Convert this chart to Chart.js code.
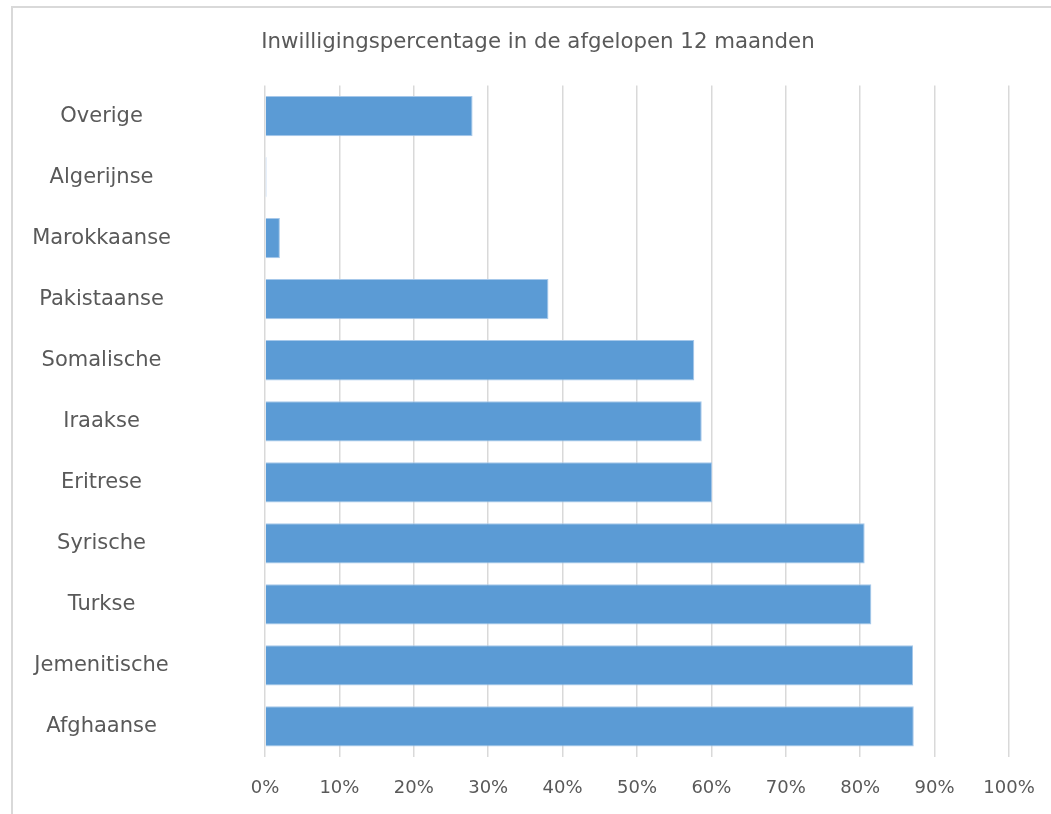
<!DOCTYPE html>
<html>
<head>
<meta charset="utf-8">
<script src="https://cdn.jsdelivr.net/npm/chart.js@4/dist/chart.umd.min.js"></script>
<style>
  html, body { margin: 0; padding: 0; background: #fff; overflow: hidden; }
  #wrap { position: relative; width: 1051px; height: 814px; }
  #frame { position: absolute; left: 11px; top: 6px; width: 1200px; height: 1000px; border: 2px solid #d9d9d9; box-sizing: border-box; }
  canvas { position: absolute; left: 0; top: 0; }
</style>
</head>
<body>
<div id="wrap">
  <div id="frame"></div>
  <canvas id="myChart" width="1051" height="814"></canvas>
</div>
<script>
// Nationaliteiten, van boven naar beneden
const categories = ['Overige', 'Algerijnse', 'Marokkaanse', 'Pakistaanse', 'Somalische', 'Iraakse',
    'Eritrese', 'Syrische', 'Turkse', 'Jemenitische', 'Afghaanse'];
// Inwilligingspercentage (%)
const percentages = [27.9, 0.2, 2.0, 38.1, 57.7, 58.7, 60.1, 80.6, 81.5, 87.1, 87.2];
const tickValues = [0, 10, 20, 30, 40, 50, 60, 70, 80, 90, 100];
const chartTitle = 'Inwilligingspercentage in de afgelopen 12 maanden';

const textColor = '#595959';
const fontFamily = "'DejaVu Sans', Verdana, sans-serif";

const ctx = document.getElementById('myChart').getContext('2d');
new Chart(ctx, {
    type: 'bar',
    data: {
        labels: categories,
        datasets: [{
            data: percentages,
            backgroundColor: '#5b9bd5',
            borderColor: '#a6c8ea',
            borderWidth: 1,
            barPercentage: 0.66,
            categoryPercentage: 1
        }]
    },
    options: {
        indexAxis: 'y',
        responsive: false,
        animation: false,
        layout: {
            // right side comes from the x axis padding, so the title centres on the frame
            padding: { left: 25, right: 0, top: 0, bottom: 14 }
        },
        plugins: {
            legend: { display: false },
            tooltip: { enabled: false },
            title: {
                display: true,
                text: chartTitle,
                color: textColor,
                font: { family: fontFamily, size: 21.3, weight: 'normal' },
                padding: { top: 30, bottom: 30 }
            }
        },
        scales: {
            x: {
                min: 0,
                max: 100,
                afterBuildTicks: axis => {
                    axis.ticks = tickValues.map(v => ({ value: v }));
                },
                afterFit: axis => {
                    axis.paddingLeft = 0;
                    axis.paddingRight = 42;
                    axis.height = 43;
                },
                ticks: {
                    color: textColor,
                    font: { family: fontFamily, size: 18 },
                    padding: 21,
                    maxRotation: 0,
                    callback: v => v + '%'
                },
                grid: {
                    color: '#d9d9d9',
                    lineWidth: 1.5,
                    drawTicks: false
                },
                border: { display: false }
            },
            y: {
                afterFit: axis => {
                    axis.width = 240;
                    // the big label padding must not push the chart area in
                    axis.paddingTop = 0;
                    axis.paddingBottom = 0;
                },
                ticks: {
                    color: textColor,
                    font: { family: fontFamily, size: 21 },
                    crossAlign: 'center',
                    padding: 94
                },
                grid: { display: false, drawTicks: false },
                border: { display: false }
            }
        }
    }
});
</script>
</body>
</html>
